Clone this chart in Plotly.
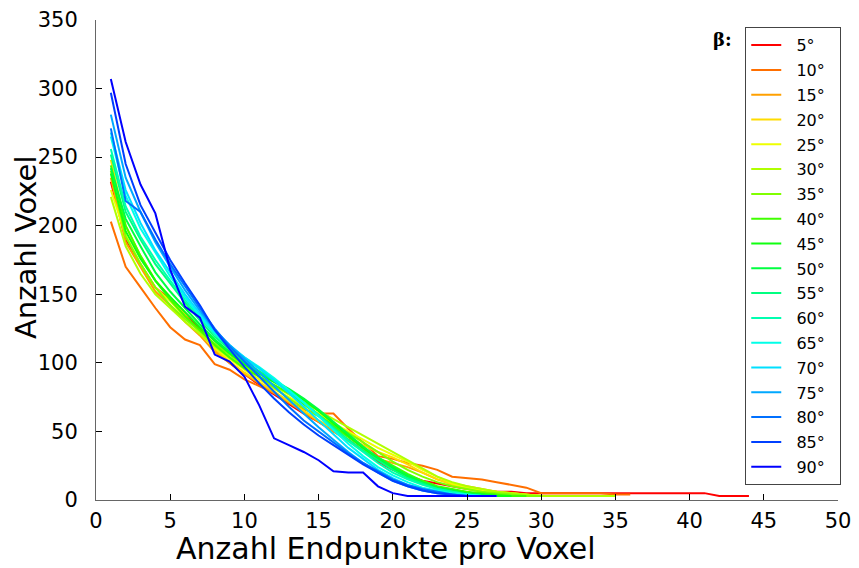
import plotly.graph_objects as go

angles = ["5°", "10°", "15°", "20°", "25°", "30°", "35°", "40°", "45°",
          "50°", "55°", "60°", "65°", "70°", "75°", "80°", "85°", "90°"]

colors = ["#ff0000", "#ff6f00", "#ffa000", "#ffdc00", "#eeff00", "#b0ff00",
          "#80ff00", "#40ff00", "#10ff10", "#00ff40", "#00ff80", "#00ffb0",
          "#00ffe8", "#00e0ff", "#00a8ff", "#0070ff", "#0040ff", "#0000ff"]

v05 = [232, 190, 172, 155, 146, 135, 125, 110, 100, 92, 84, 77, 70, 63, 57, 50, 44, 36, 28, 22,
       18, 14, 12, 10, 8, 7, 6, 6, 5, 5, 5, 5, 5, 5, 5, 5, 5, 5, 5, 5, 5, 3, 3, 3]
v10 = [203, 170, 155, 140, 126, 117, 113, 99, 95, 88, 83, 78, 72, 66, 63, 63, 52, 42, 32, 30,
       27, 25, 22, 17, 16, 15, 13, 11, 9, 5, 5, 5, 5, 5, 4, 4]
v15 = [235, 188, 170, 152, 142, 130, 120, 108, 100, 92, 85, 78, 71, 64, 57, 50, 43, 36, 30, 27,
       24, 20, 15, 12, 10, 8, 6, 5, 4, 3, 3, 3, 3]
v20 = [248, 200, 178, 160, 148, 135, 122, 110, 101, 93, 86, 79, 72, 65, 58, 52, 46, 40, 35, 31,
       26, 20, 15, 11, 8, 6, 5, 4, 3, 3]
v25 = [226, 193, 172, 155, 145, 133, 123, 111, 103, 95, 88, 81, 75, 69, 63, 56, 50, 44, 38, 33,
       28, 22, 17, 12, 9, 7, 6, 5, 4, 3, 3, 3, 3]
v30 = [221, 185, 165, 150, 140, 130, 121, 112, 104, 97, 90, 83, 77, 71, 65, 59, 53, 47, 41, 35,
       29, 23, 17, 13, 10, 8, 6, 5, 4, 3, 3, 3, 3, 3, 3]
v35 = [240, 192, 172, 155, 142, 132, 123, 114, 106, 98, 90, 82, 74, 67, 61, 55, 49, 42, 35, 28,
       22, 17, 13, 10, 8, 6, 5, 4, 3, 3]
v40 = [244, 200, 178, 160, 146, 134, 124, 113, 104, 96, 90, 84, 78, 70, 62, 54, 46, 38, 31, 25,
       19, 14, 10, 8, 6, 5, 4, 3, 3]
v45 = [238, 196, 176, 160, 148, 137, 126, 116, 107, 99, 92, 86, 80, 73, 65, 56, 47, 38, 30, 23,
       17, 12, 9, 7, 5, 4, 3, 3]
v50 = [242, 205, 185, 166, 152, 140, 128, 117, 108, 100, 93, 87, 81, 74, 66, 57, 48, 39, 31, 24,
       18, 13, 9, 7, 5, 4, 3]
v55 = [252, 210, 190, 172, 158, 144, 131, 119, 110, 101, 94, 87, 79, 71, 62, 53, 44, 36, 29, 22,
       16, 12, 8, 6, 4, 3]
v60 = [256, 214, 192, 175, 160, 146, 133, 121, 111, 103, 96, 88, 80, 71, 62, 52, 43, 35, 27, 20,
       15, 11, 8, 6, 4, 3, 3]
v65 = [265, 222, 198, 180, 163, 148, 134, 122, 112, 104, 97, 89, 80, 71, 61, 51, 41, 32, 24, 18,
       13, 9, 7, 5, 4, 3]
v70 = [268, 226, 202, 182, 166, 150, 136, 123, 113, 104, 96, 87, 78, 68, 58, 48, 38, 30, 22, 16,
       11, 8, 6, 4, 3, 3, 3]
v75 = [281, 235, 210, 188, 170, 153, 138, 124, 113, 103, 93, 83, 73, 63, 53, 44, 35, 27, 20, 14,
       10, 7, 5, 4, 3, 3]
v80 = [271, 218, 210, 190, 172, 156, 140, 125, 112, 101, 90, 79, 68, 58, 50, 42, 34, 27, 21, 15,
       11, 8, 6, 4, 3]
v85 = [297, 245, 215, 195, 175, 158, 142, 124, 110, 97, 85, 74, 64, 55, 47, 40, 33, 26, 20, 14,
       10, 7, 5, 4, 3]
v90 = [307, 261, 230, 209, 168, 141, 133, 106, 101, 90, 69, 45, 40, 35, 29, 21, 20, 20, 10, 5,
       3, 3, 3, 3, 3, 3, 3]

series = [v05, v10, v15, v20, v25, v30, v35, v40, v45, v50, v55, v60, v65, v70, v75, v80, v85, v90]

x_ticks = [0, 5, 10, 15, 20, 25, 30, 35, 40, 45, 50]
y_ticks = [0, 50, 100, 150, 200, 250, 300, 350]

FONT = "DejaVu Sans"
NB = "\u00a0"

fig = go.Figure()
for name, col, vals in zip(angles, colors, series):
    fig.add_trace(go.Scatter(
        x=list(range(1, len(vals) + 1)), y=vals, mode="lines",
        name=NB * 2 + name + NB * 2,
        legendgroup=name, line=dict(color=col, width=2)))

fig.update_layout(
    width=851, height=560,
    margin=dict(l=88, r=21, t=12, b=68),
    paper_bgcolor="white", plot_bgcolor="white",
    font=dict(family=FONT, color="black"),
    xaxis=dict(range=[0, 50], tickvals=x_ticks, ticks="inside", ticklen=6,
               tickcolor="black", showline=True, linecolor="#666666", linewidth=1,
               showgrid=False, zeroline=False, tickfont=dict(size=21), automargin=False,
               ticklabelstandoff=2),
    yaxis=dict(range=[0, 350], tickvals=y_ticks, ticks="inside", ticklen=6,
               tickcolor="black", showline=True, linecolor="#666666", linewidth=1,
               showgrid=False, zeroline=False, tickfont=dict(size=21), automargin=False,
               ticklabelstandoff=13),
    legend=dict(x=0.875, y=0.985, xanchor="left", yanchor="top",
                bordercolor="#444444", borderwidth=1, bgcolor="white",
                font=dict(size=16, family=FONT), tracegroupgap=1),
    annotations=[
        dict(text="<b>β:</b>", x=0.86, y=0.985, xref="paper", yref="paper",
             xanchor="right", yanchor="top", showarrow=False,
             font=dict(size=18, family="DejaVu Serif")),
        dict(text="Anzahl Endpunkte pro Voxel", x=0.391, y=0, xref="paper", yref="paper",
             xanchor="center", yanchor="middle", yshift=-48, showarrow=False,
             font=dict(size=30, family=FONT)),
        dict(text="Anzahl Voxel", x=0, y=0.525, xref="paper", yref="paper",
             xanchor="center", yanchor="middle", xshift=-70, textangle=-90, showarrow=False,
             font=dict(size=29, family=FONT)),
    ],
)

fig.write_html("out.html")
